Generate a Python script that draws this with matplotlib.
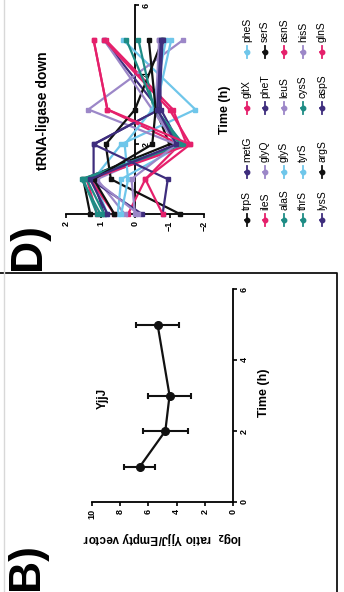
import matplotlib
matplotlib.use("Agg")
import matplotlib.pyplot as plt
from matplotlib.lines import Line2D

plt.rcParams['font.family'] = ['Liberation Sans', 'DejaVu Sans']

# Panel B - YjjJ
b_time = [1, 2, 3, 5]
b_ratio = [6.6, 4.8, 4.5, 5.35]
b_err = [1.1, 1.6, 1.5, 1.55]

# Panel D - tRNA ligases (log2 values)
d_time = [0, 1, 2, 3, 5]
genes = ["trpS", "metG", "gltX", "pheS",
         "ileS", "glyQ", "pheT", "serS",
         "alaS", "glyS", "leuS", "asnS",
         "thrS", "tyrS", "cysS", "hisS",
         "lysS", "argS", "aspS", "glnS"]
BLACK, PINK, TEAL, BLUE, INDIGO, LAV = "#111111", "#E5206B", "#1E8C85", "#6FC6EA", "#3E2D7D", "#9C87C8"
gene_colors = [BLACK, INDIGO, PINK, BLUE,
               PINK, LAV, INDIGO, BLACK,
               TEAL, BLUE, LAV, PINK,
               TEAL, BLUE, TEAL, LAV,
               INDIGO, BLACK, INDIGO, PINK]
d_values = {
    "trpS": [1.3, 1.5, -1.0, -0.6, -0.8],
    "metG": [0.9, 1.2, 1.2, -0.7, 0.9],
    "gltX": [0.2, -0.3, -1.3, 0.8, 1.2],
    "pheS": [0.8, 1.2, 0.4, -1.75, 0.35],
    "ileS": [1.1, 1.4, -1.5, -1.1, 0.85],
    "glyQ": [0.3, 1.1, -1.2, 1.35, -1.4],
    "pheT": [-0.2, 1.3, -1.3, -0.75, -0.7],
    "serS": [-1.3, 0.7, 0.85, 0.0, -0.8],
    "alaS": [1.0, 1.55, -1.3, -0.55, -0.1],
    "glyS": [0.5, 0.4, -1.4, -0.6, -1.05],
    "leuS": [-0.1, 1.2, -1.2, -0.5, 0.9],
    "asnS": [0.6, 1.3, -1.6, -1.0, 0.9],
    "thrS": [1.1, 1.5, -1.4, -0.6, -0.75],
    "tyrS": [0.4, 0.2, 0.3, -0.5, -0.9],
    "cysS": [0.9, 1.4, -1.3, -0.6, 0.25],
    "hisS": [0.0, 0.1, -1.2, -0.6, -0.7],
    "lysS": [-0.8, -0.95, 1.2, -0.7, -0.8],
    "argS": [0.6, 1.2, -0.5, -0.6, -0.4],
    "aspS": [0.8, 1.3, -1.2, -0.65, -0.75],
    "glnS": [-0.8, -0.3, -1.6, 0.8, 1.2],
}

W, H = 344, 592
fig = plt.figure(figsize=(W / 100, H / 100), dpi=100)


def box(x0, x1, y0, y1):
    # pixel box (top-left origin) -> figure fractions
    return [x0 / W, 1 - y1 / H, (x1 - x0) / W, (y1 - y0) / H]


def px(x, y):
    return x / W, 1 - y / H


# whole figure is turned 90 deg ccw: time runs upward, values run leftward
def style_axes(ax):
    ax.spines['top'].set_visible(False)
    ax.spines['left'].set_visible(False)
    for s in ['right', 'bottom']:
        ax.spines[s].set_linewidth(1.3)
    ax.yaxis.tick_right()
    ax.tick_params(axis='both', length=3, width=1.2, labelsize=6.5, pad=2)
    for lab in ax.get_xticklabels() + ax.get_yticklabels():
        lab.set_rotation(90)
        lab.set_fontweight('bold')
    ax.set_facecolor('none')


# ---- Panel B ----
axb = fig.add_axes(box(92, 233, 289, 502))
axb.errorbar(b_ratio, b_time, xerr=b_err, color=BLACK, marker='o', markersize=5.5,
             linewidth=1.6, elinewidth=1.5, capsize=2.5, capthick=1.5)
axb.set_xlim(10, 0)
axb.set_ylim(0, 6)
axb.set_xticks([0, 2, 4, 6, 8, 10])
axb.set_yticks([0, 2, 4, 6])
style_axes(axb)
for lab in axb.get_yticklabels():
    lab.set_va('center')

fig.text(*px(264, 393), "Time (h)", rotation=90, fontsize=9, fontweight='bold',
         ha='center', va='center')
fig.text(*px(162, 538), r"log$_\mathbf{2}$  ratio YjjJ/Empty vector", rotation=180,
         fontsize=8.5, fontweight='bold', ha='center', va='center')
fig.text(*px(103, 398), "YjjJ", rotation=90, fontsize=8.5, fontweight='bold',
         ha='center', va='center')
fig.text(*px(27, 566), "B)", rotation=90, fontsize=32, fontweight='bold',
         ha='center', va='center')

# ---- Panel D ----
axd = fig.add_axes(box(66, 204, 5, 214))
for g, c in zip(genes, gene_colors):
    axd.plot(d_values[g], d_time, color=c, marker='s', markersize=3,
             linewidth=1.6, zorder=3, clip_on=False)
axd.set_xlim(2, -2)
axd.set_ylim(0, 6)
axd.spines['right'].set_position(('data', 0))
axd.set_xticks([2, 1, 0, -1, -2])
axd.set_yticks([2, 4, 6])
style_axes(axd)
for lab in axd.get_yticklabels():
    lab.set_va('center')

fig.text(*px(225, 110), "Time (h)", rotation=90, fontsize=9, fontweight='bold',
         ha='center', va='center')
fig.text(*px(43, 111), "tRNA-ligase down", rotation=90, fontsize=10,
         fontweight='bold', ha='center', va='center')
fig.text(*px(28, 246), "D)", rotation=90, fontsize=32, fontweight='bold',
         ha='center', va='center')

# legend drawn by hand (rotated)
leg_x = [247, 265, 284, 303, 322]
leg_y = [220, 172, 108, 52]
for i, (g, c) in enumerate(zip(genes, gene_colors)):
    row, col = divmod(i, 4)
    x, y = leg_x[row], leg_y[col]
    fx, fy0 = px(x, y + 6)
    _, fy1 = px(x, y - 6)
    _, fym = px(x, y)
    fig.add_artist(Line2D([fx, fx], [fy0, fy1], color=c, linewidth=1.3))
    fig.add_artist(Line2D([fx], [fym], color=c, marker='o', markersize=3.2))
    fig.add_artist(Line2D([fx], [fym], color=c, marker='_', markersize=5, markeredgewidth=1.2))
    fig.text(*px(x, y - 10), g, rotation=90, rotation_mode='anchor', fontsize=7.5,
             ha='left', va='center')

# frame around panel B and page edge
fig.add_artist(Line2D([0, 337 / W, 337 / W], [1 - 273 / H, 1 - 273 / H, 0],
                      color=BLACK, linewidth=1.3))
fig.add_artist(Line2D([4 / W, 4 / W], [0, 1], color="#d8d8d8", linewidth=1))

fig.savefig("out.png", dpi=100)
